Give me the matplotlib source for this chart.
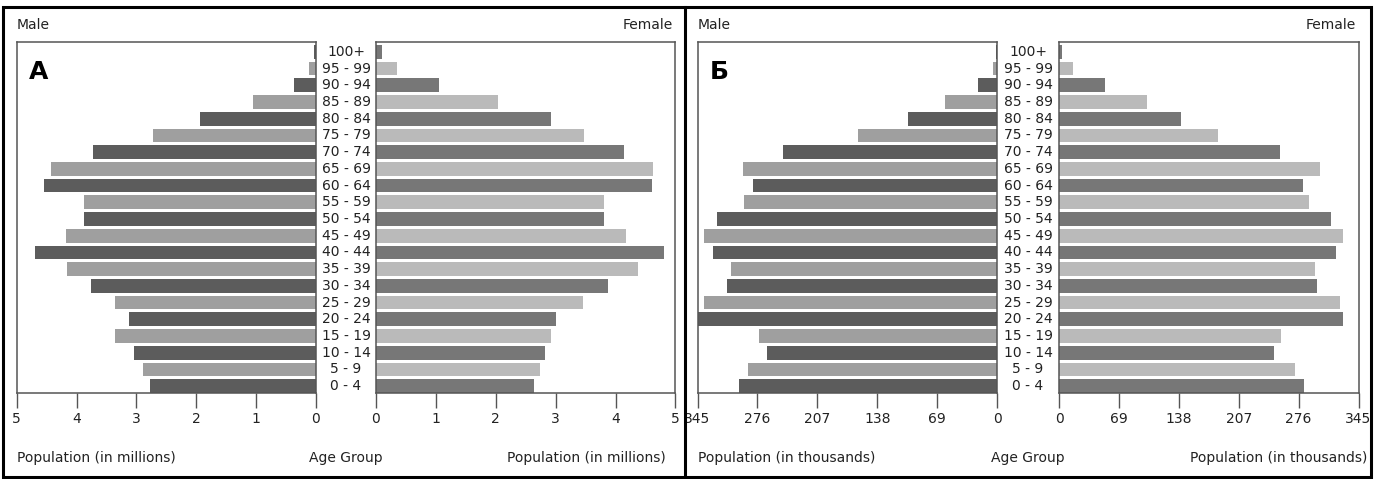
import matplotlib
matplotlib.use("Agg")
import matplotlib.pyplot as plt
from matplotlib import transforms
from matplotlib.patches import Rectangle
from matplotlib.lines import Line2D
import numpy as np

plt.rcParams['font.family'] = ['DejaVu Sans']

age_groups = ["0 - 4", "5 - 9", "10 - 14", "15 - 19", "20 - 24", "25 - 29", "30 - 34",
              "35 - 39", "40 - 44", "45 - 49", "50 - 54", "55 - 59", "60 - 64", "65 - 69",
              "70 - 74", "75 - 79", "80 - 84", "85 - 89", "90 - 94", "95 - 99", "100+"]

# Panel A (millions)
male_a = [2.77, 2.89, 3.04, 3.35, 3.12, 3.35, 3.76, 4.16, 4.70, 4.18, 3.88, 3.88, 4.55,
          4.42, 3.72, 2.73, 1.93, 1.05, 0.37, 0.11, 0.03]
female_a = [2.64, 2.73, 2.82, 2.92, 3.01, 3.46, 3.88, 4.38, 4.80, 4.18, 3.81, 3.81, 4.61,
            4.62, 4.14, 3.47, 2.92, 2.03, 1.05, 0.35, 0.10]

# Panel Б (thousands)
male_b = [297, 287, 265, 274, 345, 337, 311, 306, 327, 337, 322, 292, 281, 293, 246,
          160, 102, 60, 22, 5, 1]
female_b = [282, 272, 248, 256, 327, 324, 297, 295, 319, 327, 313, 288, 281, 301, 255,
            183, 140, 101, 53, 16, 3]

ticks_a = [0, 1, 2, 3, 4, 5]
ticks_b = [0, 69, 138, 207, 276, 345]

W, H = 1376, 479
fig = plt.figure(figsize=(W / 100, H / 100), dpi=100)

def fx(px):
    return px / W

def fy(py):
    return 1 - py / H

top_px, bot_px = 42, 393
male_dark, male_light = "#5c5c5c", "#9f9f9f"
fem_dark, fem_light = "#777777", "#bababa"
spine_col = "#555555"

panels = [
    dict(lx=(16.7, 316), rx=(376, 675.5), male=male_a, female=female_a, ticks=ticks_a,
         lim=5, unit="Population (in millions)", tag="А", rlab_x=666, fem_x=673),
    dict(lx=(697.5, 997), rx=(1059, 1358.5), male=male_b, female=female_b, ticks=ticks_b,
         lim=345, unit="Population (in thousands)", tag="Б", rlab_x=1367, fem_x=1356),
]

y = np.arange(len(age_groups))
bar_h = 0.82
ylim = (-0.41, 20.59)

for p in panels:
    colors_m = [male_dark if i % 2 == 0 else male_light for i in y]
    colors_f = [fem_dark if i % 2 == 0 else fem_light for i in y]
    axl = fig.add_axes([fx(p["lx"][0]), fy(bot_px), fx(p["lx"][1] - p["lx"][0]),
                        (bot_px - top_px) / H])
    axr = fig.add_axes([fx(p["rx"][0]), fy(bot_px), fx(p["rx"][1] - p["rx"][0]),
                        (bot_px - top_px) / H])
    axl.barh(y, p["male"], height=bar_h, color=colors_m, linewidth=0)
    axr.barh(y, p["female"], height=bar_h, color=colors_f, linewidth=0)
    axl.set_xlim(p["lim"], 0)
    axr.set_xlim(0, p["lim"])
    for ax in (axl, axr):
        ax.set_ylim(*ylim)
        ax.set_yticks([])
        ax.set_xticks(p["ticks"])
        ax.set_xticklabels([str(t) for t in p["ticks"]])
        ax.tick_params(axis="x", direction="out", length=11, width=1, color=spine_col,
                       labelsize=10, pad=3, labelcolor="#222222")
        for s in ax.spines.values():
            s.set_color(spine_col)
            s.set_linewidth(1.1)
    # age labels between the two axes
    mid = (p["lx"][1] + p["rx"][0]) / 2
    tr = transforms.blended_transform_factory(fig.transFigure, axl.transData)
    for i, lab in enumerate(age_groups):
        fig.text(fx(mid), i, lab, transform=tr, ha="center", va="center", fontsize=10,
                 color="#222222")
    # texts
    fig.text(fx(p["lx"][0]), fy(25), "Male", ha="left", va="center", fontsize=10,
             color="#222222")
    fig.text(fx(p["fem_x"]), fy(25), "Female", ha="right", va="center", fontsize=10,
             color="#222222")
    fig.text(fx(p["lx"][0]), fy(458), p["unit"], ha="left", va="center", fontsize=10,
             color="#222222")
    fig.text(fx(mid), fy(458), "Age Group", ha="center", va="center", fontsize=10,
             color="#222222")
    fig.text(fx(p["rlab_x"]), fy(458), p["unit"], ha="right", va="center", fontsize=10,
             color="#222222")
    fig.text(fx(p["lx"][0] + 12), fy(72), p["tag"], ha="left", va="center", fontsize=18,
             fontweight="bold", color="black")

# outer border and divider
fig.add_artist(Rectangle((fx(2.5), fy(476.5)), fx(1371 - 2.5), (476.5 - 7) / H,
                         transform=fig.transFigure, fill=False, edgecolor="black",
                         linewidth=2.2))
fig.add_artist(Line2D([fx(685), fx(685)], [fy(7), fy(476.5)], transform=fig.transFigure,
                      color="black", linewidth=2.2))

fig.savefig("out.png", dpi=100, facecolor="white")
